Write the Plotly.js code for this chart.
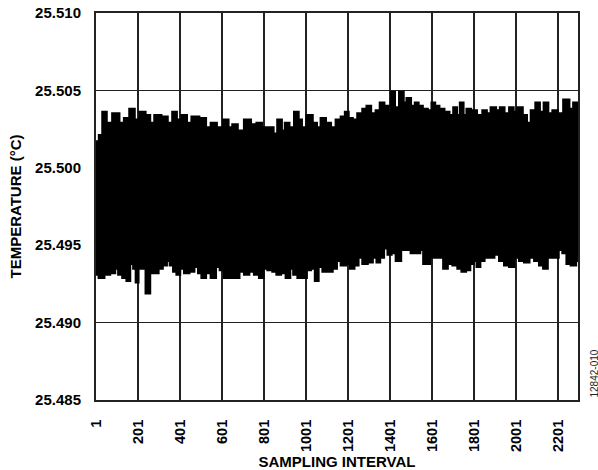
<!DOCTYPE html>
<html>
<head>
<meta charset="utf-8">
<script src="https://cdn.plot.ly/plotly-3.0.1.min.js"></script>
<style>html,body{margin:0;padding:0;background:#fff;}#chart{width:598px;height:470px;}</style>
</head>
<body>
<div id="chart"></div>
<script>
const upperSample = [1, 11, 20, 44, 58, 100, 123, 147, 174, 195, 222, 250, 266, 293, 330, 353, 377, 393, 425, 441, 472, 512, 536, 560, 591, 623, 639, 663, 687, 726, 750, 782, 798, 838, 853, 877, 893, 909, 933, 957, 973, 988, 1020, 1044, 1060, 1083, 1107, 1131, 1155, 1179, 1195, 1211, 1234, 1258, 1282, 1298, 1322, 1345, 1361, 1385, 1401, 1414, 1433, 1457, 1473, 1488, 1512, 1528, 1544, 1568, 1592, 1607, 1623, 1647, 1671, 1695, 1711, 1727, 1742, 1758, 1774, 1798, 1830, 1853, 1869, 1893, 1917, 1933, 1957, 1981, 1996, 2020, 2044, 2060, 2084, 2104, 2123, 2144, 2163, 2187, 2211, 2242, 2266, 2282, 2298];
const upperTemp = [25.50145, 25.5017, 25.5021, 25.5036, 25.5029, 25.5035, 25.5029, 25.5032, 25.5038, 25.5031, 25.5036, 25.5034, 25.5029, 25.5034, 25.5033, 25.5029, 25.5036, 25.5031, 25.5034, 25.5029, 25.5033, 25.5032, 25.5026, 25.5029, 25.5026, 25.5031, 25.5026, 25.5028, 25.5024, 25.5031, 25.5028, 25.5029, 25.5026, 25.5026, 25.5022, 25.5031, 25.5024, 25.5029, 25.5026, 25.5036, 25.5031, 25.5026, 25.5034, 25.5029, 25.5026, 25.5032, 25.5029, 25.5026, 25.5031, 25.5033, 25.5036, 25.5032, 25.5031, 25.5035, 25.5038, 25.5040, 25.5035, 25.5037, 25.5042, 25.5040, 25.5035, 25.5049, 25.5039, 25.5049, 25.5042, 25.5045, 25.5040, 25.5042, 25.5040, 25.5038, 25.5037, 25.5042, 25.5040, 25.5038, 25.5036, 25.5034, 25.5039, 25.5034, 25.5042, 25.5034, 25.5038, 25.5037, 25.5034, 25.5037, 25.5035, 25.5039, 25.5037, 25.5039, 25.5035, 25.5039, 25.5036, 25.5039, 25.5034, 25.5029, 25.5037, 25.5042, 25.5036, 25.5042, 25.5035, 25.5037, 25.5035, 25.5044, 25.5038, 25.5042, 25.5040];
const lowerSample = [1, 28, 52, 83, 100, 115, 139, 155, 171, 187, 195, 210, 226, 250, 266, 290, 306, 330, 345, 361, 377, 393, 409, 433, 457, 480, 496, 512, 536, 560, 583, 599, 623, 647, 671, 695, 718, 742, 766, 790, 806, 830, 853, 869, 893, 917, 933, 949, 973, 996, 1012, 1036, 1052, 1068, 1092, 1115, 1139, 1155, 1179, 1203, 1219, 1242, 1258, 1282, 1306, 1330, 1345, 1361, 1382, 1398, 1417, 1441, 1465, 1488, 1512, 1520, 1536, 1552, 1568, 1583, 1599, 1623, 1647, 1663, 1687, 1711, 1734, 1750, 1774, 1790, 1806, 1822, 1838, 1862, 1885, 1909, 1933, 1957, 1981, 2004, 2028, 2052, 2076, 2100, 2123, 2139, 2163, 2195, 2211, 2234, 2250, 2274, 2298];
const lowerTemp = [25.4931, 25.4929, 25.4931, 25.4932, 25.4935, 25.4931, 25.4929, 25.4927, 25.4938, 25.4935, 25.4926, 25.4935, 25.4935, 25.4919, 25.4932, 25.4932, 25.4935, 25.4937, 25.4940, 25.4937, 25.4933, 25.4931, 25.4935, 25.4932, 25.4933, 25.4936, 25.4932, 25.4929, 25.4932, 25.4929, 25.4936, 25.4934, 25.4929, 25.4929, 25.4929, 25.4933, 25.4931, 25.4933, 25.4931, 25.4929, 25.4935, 25.4934, 25.4933, 25.4931, 25.4932, 25.4929, 25.4935, 25.4931, 25.4929, 25.4929, 25.4934, 25.4935, 25.4927, 25.4936, 25.4933, 25.4933, 25.4935, 25.4940, 25.4937, 25.4938, 25.4935, 25.4937, 25.4942, 25.4938, 25.4939, 25.4942, 25.4939, 25.4942, 25.4948, 25.4944, 25.4945, 25.4940, 25.4947, 25.4947, 25.4945, 25.4948, 25.4945, 25.4947, 25.4938, 25.4938, 25.4942, 25.4942, 25.4942, 25.4935, 25.4938, 25.4937, 25.4935, 25.4933, 25.4934, 25.4938, 25.4940, 25.4936, 25.4940, 25.4942, 25.4942, 25.4944, 25.4940, 25.4937, 25.4936, 25.4942, 25.4940, 25.4939, 25.4942, 25.4940, 25.4937, 25.4935, 25.4942, 25.4942, 25.4947, 25.4945, 25.4938, 25.4937, 25.4940];
const xTickVals = [1, 201, 401, 601, 801, 1001, 1201, 1401, 1601, 1801, 2001, 2201];
const yTickVals = [25.485, 25.490, 25.495, 25.500, 25.505, 25.510];
const yTickText = ['25.485', '25.490', '25.495', '25.500', '25.505', '25.510'];

const FONT = 'Liberation Sans, Arial, Helvetica, sans-serif';

const traces = [
  {x: lowerSample, y: lowerTemp, type: 'scatter', mode: 'lines',
   line: {color: '#000', width: 2.5, shape: 'hvh'}, hoverinfo: 'skip', showlegend: false},
  {x: upperSample, y: upperTemp, type: 'scatter', mode: 'lines',
   fill: 'tonexty', fillcolor: '#000',
   line: {color: '#000', width: 2.5, shape: 'hvh'}, hoverinfo: 'skip', showlegend: false}
];

const layout = {
  width: 598, height: 470,
  margin: {l: 96, r: 20, t: 13, b: 70},
  paper_bgcolor: '#fff', plot_bgcolor: '#fff',
  font: {family: FONT, color: '#000'},
  showlegend: false,
  xaxis: {
    range: [1, 2296], tickvals: xTickVals, ticktext: xTickVals.map(String),
    tickangle: -90, ticks: '', ticklabelstandoff: 12,
    tickfont: {family: FONT, size: 14.5, weight: 'bold', color: '#000'},
    showgrid: true, gridcolor: '#222', gridwidth: 1.2,
    showline: true, linecolor: '#222', linewidth: 2, mirror: true,
    zeroline: false,
    title: {text: 'SAMPLING INTERVAL', standoff: 5,
            font: {family: FONT, size: 15, weight: 'bold', color: '#000'}}
  },
  yaxis: {
    range: [25.485, 25.510], tickvals: yTickVals, ticktext: yTickText,
    ticks: '', ticklabelstandoff: 10,
    tickfont: {family: FONT, size: 15, weight: 'bold', color: '#000'},
    showgrid: true, gridcolor: '#222', gridwidth: 1.2,
    showline: true, linecolor: '#222', linewidth: 2, mirror: true,
    zeroline: false,
    title: {text: 'TEMPERATURE (°C)', standoff: 10,
            font: {family: FONT, size: 15, weight: 'bold', color: '#000'}}
  },
  annotations: [{
    text: '12842-010', xref: 'paper', yref: 'paper', x: 1.0, y: 0,
    xanchor: 'left', yanchor: 'bottom', xshift: 8, textangle: -90, showarrow: false,
    font: {family: FONT, size: 10, color: '#222'}
  }]
};

Plotly.newPlot('chart', traces, layout, {staticPlot: true, displayModeBar: false});
</script>
</body>
</html>
